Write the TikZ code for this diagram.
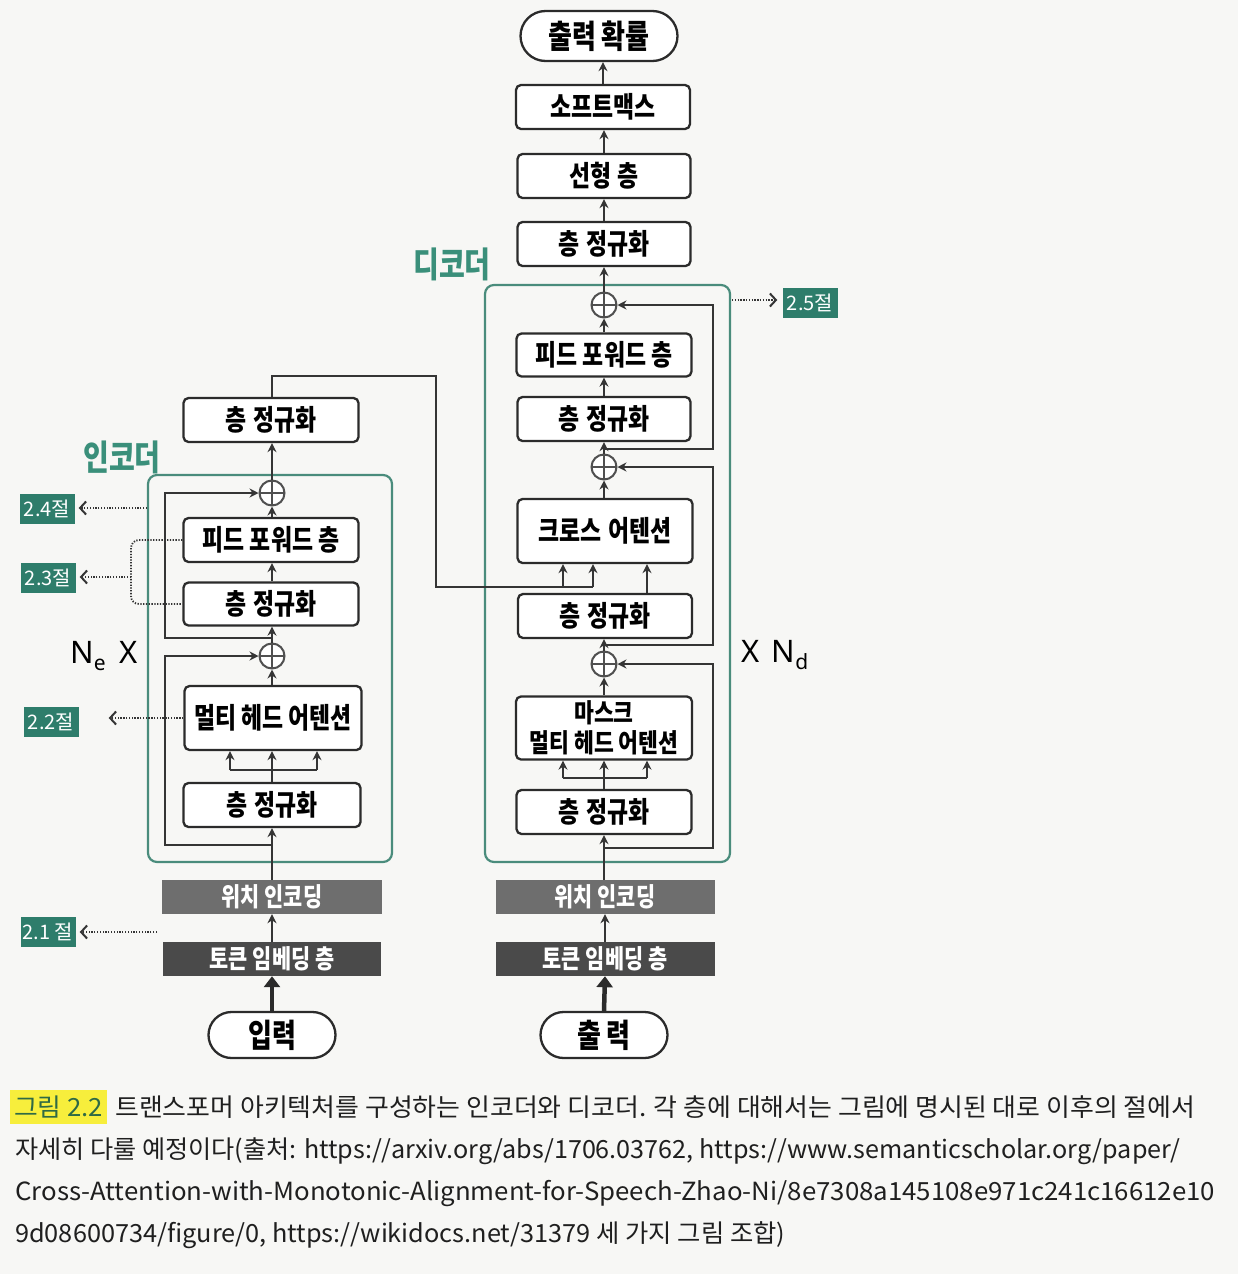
\documentclass[tikz,border=0pt]{standalone}
\usepackage{fontspec}
\usepackage{graphicx}
\setmainfont{Noto Sans CJK KR}
\newfontfamily\latinf{Noto Sans}
\usetikzlibrary{arrows.meta,shapes.misc,calc}
\definecolor{ink}{HTML}{2B2B2B}
\definecolor{lnc}{HTML}{353535}
\definecolor{plc}{HTML}{505050}
\definecolor{tagc}{HTML}{2E7D6B}
\definecolor{contc}{HTML}{4A8C7C}
\definecolor{grnt}{HTML}{3A8F7A}
\definecolor{posc}{HTML}{6E6E6E}
\definecolor{tokc}{HTML}{4A4A4A}
\definecolor{paper}{HTML}{F7F7F5}
\definecolor{hlc}{HTML}{F7EE3C}
\definecolor{figc}{HTML}{2F6A45}
\newsavebox\fitbox
\newlength\fitlen
\newcommand\fitw[2]{\sbox\fitbox{#2}\setlength\fitlen{\wd\fitbox}\pgfmathsetmacro\fitr{#1/\fitlen}\scalebox{\fitr}[1]{\usebox\fitbox}}
\newcommand\lbl[1]{\scalebox{1.04}[1.3]{#1}}
\newcommand\lbm[1]{\scalebox{0.98}[1.18]{#1}}
\begin{document}
\begin{tikzpicture}[x=1pt,y=-1pt,
  xbox/.style={draw=ink, line width=2.3pt, rounded corners=5pt, fill=white, minimum width=175pt, minimum height=44pt, inner sep=0pt, font=\bfseries\fontsize{22}{24}\selectfont},
  xstad/.style={rounded rectangle, draw=ink, line width=2.3pt, fill=white, inner sep=0pt, font=\bfseries\fontsize{25}{28}\selectfont},
  xplus/.style={circle, draw=plc, line width=2pt, minimum size=25pt, inner sep=0pt, fill=white,
     path picture={\draw[plc, line width=2pt] (path picture bounding box.north) -- (path picture bounding box.south) (path picture bounding box.west) -- (path picture bounding box.east);}},
  xfill/.style={minimum width=220pt, minimum height=34pt, inner sep=0pt, text=white, font=\bfseries\fontsize{20}{22}\selectfont},
  xtag/.style={fill=tagc, text=white, minimum width=55pt, minimum height=30pt, inner sep=0pt, font=\fontsize{20}{22}\selectfont},
  conn/.style={draw=lnc, line width=2.3pt},
  arr/.style={conn, -{Stealth[length=9pt,width=9pt]}},
  dotline/.style={draw=lnc, line width=1.8pt, dash pattern=on 1.3pt off 1.5pt},
  dotarr/.style={dotline, -{Straight Barb[length=6pt,width=13pt,line width=2pt]}},
  grlbl/.style={text=grnt, font=\bfseries\fontsize{27}{30}\selectfont},
  captxt/.style={anchor=base west, inner sep=0pt, font=\fontsize{25}{28}\selectfont, text=black!88}
]
\fill[paper] (0,0) rectangle (1238,1274);
\useasboundingbox (0,0) rectangle (1238,1274);

% containers
\draw[contc, line width=2.2pt, rounded corners=9pt] (148,475) rectangle (392,862);
\draw[contc, line width=2.2pt, rounded corners=9pt] (485,285) rectangle (730,862);

% ---------------- encoder ----------------
\node[xbox] (en2) at (271,420) {\lbl{층\,\,정규화}};
\node[xplus] (ep2) at (272,493) {};
\node[xbox] (eff) at (271,540) {\lbl{피드 포워드 층}};
\node[xbox, minimum height=43pt] (en1) at (271,604) {\lbl{층\,\,정규화}};
\node[xplus] (ep1) at (272,656) {};
\node[xbox, minimum height=64pt, minimum width=177pt] (emha) at (273,718) {\lbl{멀티 헤드 어텐션}};
\node[xbox, minimum width=177pt] (en0) at (272,805) {\lbl{층\,\,정규화}};
\node[xfill, fill=posc] (epos) at (272,897) {\lbl{위치 인코딩}};
\node[xfill, fill=tokc, minimum width=218pt] (etok) at (272,959) {\lbl{토큰 임베딩 층}};
\node[xstad, minimum width=127pt, minimum height=46pt] (einp) at (272,1035) {\lbl{입력}};

% ---------------- decoder ----------------
\node[xstad, minimum width=157pt, minimum height=50pt] (outp) at (599,36) {\lbl{출력 확률}};
\node[xbox, minimum width=174pt] (soft) at (603,107) {\lbl{소프트맥스}};
\node[xbox, minimum width=173pt] (lin) at (604,176) {\lbl{선형 층}};
\node[xbox, minimum width=173pt] (dn3) at (604,244) {\lbl{층\,\,정규화}};
\node[xplus] (dp3) at (604,305) {};
\node[xbox, minimum height=43pt] (dff) at (604,355) {\lbl{피드 포워드 층}};
\node[xbox, minimum width=173pt] (dn2) at (604,419) {\lbl{층\,\,정규화}};
\node[xplus] (dp2) at (604,467) {};
\node[xbox, minimum height=64pt] (dcross) at (605,531) {\lbl{크로스\,\,어텐션}};
\node[xbox, minimum width=174pt] (dn1) at (605,616) {\lbl{층\,\,정규화}};
\node[xplus] (dp1) at (604,664) {};
\node[xbox, minimum height=63pt, minimum width=176pt, align=center] (dmask) at (604,728) {\lbm{마스크}\\[4pt]\lbm{멀티 헤드 어텐션}};
\node[xbox] (dn0) at (604,812) {\lbl{층\,\,정규화}};
\node[xfill, fill=posc, minimum width=219pt] (dpos) at (605,897) {\lbl{위치 인코딩}};
\node[xfill, fill=tokc, minimum width=219pt] (dtok) at (605,959) {\lbl{토큰 임베딩 층}};
\node[xstad, minimum width=127pt, minimum height=46pt] (dout) at (604,1035) {\lbl{출\,력}};

% ---------------- labels ----------------
\node[grlbl] (lenc) at (122,457) {\lbl{인코더}};
\node[grlbl] (ldec) at (452,264) {\lbl{디코더}};
\node[font=\latinf\fontsize{31}{33}\selectfont] (ne) at (104,656) {N\raisebox{-7pt}{\fontsize{21}{21}\selectfont e}\hspace{14pt}X};
\node[font=\latinf\fontsize{31}{33}\selectfont] (nd) at (775,655) {X\hspace{12pt}N\raisebox{-7pt}{\fontsize{21}{21}\selectfont d}};

% ---------------- tags ----------------
\node[xtag] (t24) at (47,509) {2.4절};
\node[xtag] (t23) at (48,578) {2.3절};
\node[xtag] (t22) at (51,722) {2.2절};
\node[xtag] (t21) at (48,932) {2.1 절};
\node[xtag] (t25) at (810,303) {2.5절};

% ---------------- encoder connectors ----------------
\coordinate (esp) at (272,770);
\coordinate (espl) at (230,770);
\coordinate (espr) at (317,770);
\coordinate (eb1) at (272,845);
\coordinate (eb1l) at (165,845);
\coordinate (eb2) at (272,638);
\coordinate (eb2l) at (165,638);
\draw[arr] (epos.north) -- (en0.south);
\draw[conn] (en0.north) -- (esp);
\draw[conn] (espl) -- (espr);
\draw[arr] (esp) -- (esp |- emha.south);
\draw[arr] (espl) -- (espl |- emha.south);
\draw[arr] (espr) -- (espr |- emha.south);
\draw[arr] (emha.north -| ep1) -- (ep1.south);
\draw[arr] (ep1.north) -- (ep1.north |- en1.south);
\draw[arr] (en1.north -| ep1) -- (ep1 |- eff.south);
\draw[arr] (eff.north -| ep2) -- (ep2.south);
\draw[arr] (ep2.north) -- (ep2.north |- en2.south);
\draw[arr] (eb1) -- (eb1l) |- (ep1.west);
\draw[arr] (eb2) -- (eb2l) |- (ep2.west);
\draw[arr] (etok.north) -- (epos.south);
\draw[draw=ink, line width=4.5pt, -{Triangle[length=11pt,width=16pt]}] (einp.north) -- (etok.south);

% encoder -> cross attention
\coordinate (ec1) at (272,376);
\coordinate (ec2) at (436,376);
\coordinate (ec3) at (436,587);
\coordinate (ec4) at (593,587);
\coordinate (ec5) at (563,587);
\coordinate (dqx) at (647,600);
\draw[conn] (en2.north -| ec1) -- (ec1) -- (ec2) -- (ec3) -- (ec4);
\draw[arr] (ec4) -- (ec4 |- dcross.south);
\draw[arr] (ec5) -- (ec5 |- dcross.south);
\draw[arr] (dn1.north -| dqx) -- (dcross.south -| dqx);

% ---------------- decoder connectors ----------------
\coordinate (dsp) at (604,778);
\coordinate (dspl) at (563,778);
\coordinate (dspr) at (647,778);
\coordinate (db1) at (604,848);
\coordinate (db1r) at (713,848);
\coordinate (db2) at (604,645);
\coordinate (db2r) at (713,645);
\coordinate (db3) at (604,449);
\coordinate (db3r) at (713,449);
\draw[arr] (dpos.north -| dn0) -- (dn0.south);
\draw[conn] (dn0.north) -- (dsp);
\draw[conn] (dspl) -- (dspr);
\draw[arr] (dsp) -- (dsp |- dmask.south);
\draw[arr] (dspl) -- (dspl |- dmask.south);
\draw[arr] (dspr) -- (dspr |- dmask.south);
\draw[arr] (dmask.north) -- (dp1.south);
\draw[arr] (dp1.north) -- (dp1.north |- dn1.south);
\draw[arr] (dcross.north -| dp2) -- (dp2.south);
\draw[arr] (dp2.north) -- (dn2.south);
\draw[arr] (dn2.north) -- (dff.south);
\draw[arr] (dff.north) -- (dp3.south);
\draw[arr] (dp3.north) -- (dn3.south);
\draw[arr] (dn3.north) -- (lin.south);
\draw[arr] (lin.north) -- (lin.north |- soft.south);
\draw[arr] (soft.north) -- (soft.north |- outp.south);
\draw[arr] (db1) -- (db1r) |- (dp1.east);
\draw[arr] (db2) -- (db2r) |- (dp2.east);
\draw[arr] (db3) -- (db3r) |- (dp3.east);
\draw[arr] (dtok.north) -- (dpos.south);
\draw[draw=ink, line width=4.5pt, -{Triangle[length=11pt,width=16pt]}] (dout.north) -- (dtok.south);

% ---------------- dotted references ----------------
\coordinate (c24) at (147,508);
\coordinate (b5) at (131,577);
\coordinate (c21) at (157,932);
\coordinate (c25) at (732,300);
\draw[dotarr, shorten >=4pt] (c24) -- (c24 -| t24.east);
\draw[dotline, rounded corners=8pt] (eff.west) -| (b5) |- (en1.west);
\draw[dotarr, shorten >=4pt] (b5) -- (b5 -| t23.east);
\draw[dotarr, shorten >=30pt] (emha.west) -- (emha.west -| t22.east);
\draw[dotarr, shorten >=4pt] (c21) -- (t21.east);
\draw[dotarr, shorten >=5pt] (c25) -- (c25 -| t25.west);

% ---------------- caption ----------------
\fill[hlc] (10,1090) rectangle (107,1124);
\node[captxt, text=figc] (cap0) at (14,1116) {\fitw{89}{그림 2.2}};
\node[captxt] (cap1) at (115,1116) {\fitw{1080}{트랜스포머 아키텍처를 구성하는 인코더와 디코더. 각 층에 대해서는 그림에 명시된 대로 이후의 절에서}};
\node[captxt] (cap2) at (15,1158) {\fitw{1165}{자세히 다룰 예정이다(출처: https://arxiv.org/abs/1706.03762, https://www.semanticscholar.org/paper/}};
\node[captxt] (cap3) at (15,1200) {\fitw{1200}{Cross-Attention-with-Monotonic-Alignment-for-Speech-Zhao-Ni/8e7308a145108e971c241c16612e10}};
\node[captxt] (cap4) at (15,1242) {\fitw{770}{9d08600734/figure/0, https://wikidocs.net/31379 세 가지 그림 조합)}};
\end{tikzpicture}
\end{document}
